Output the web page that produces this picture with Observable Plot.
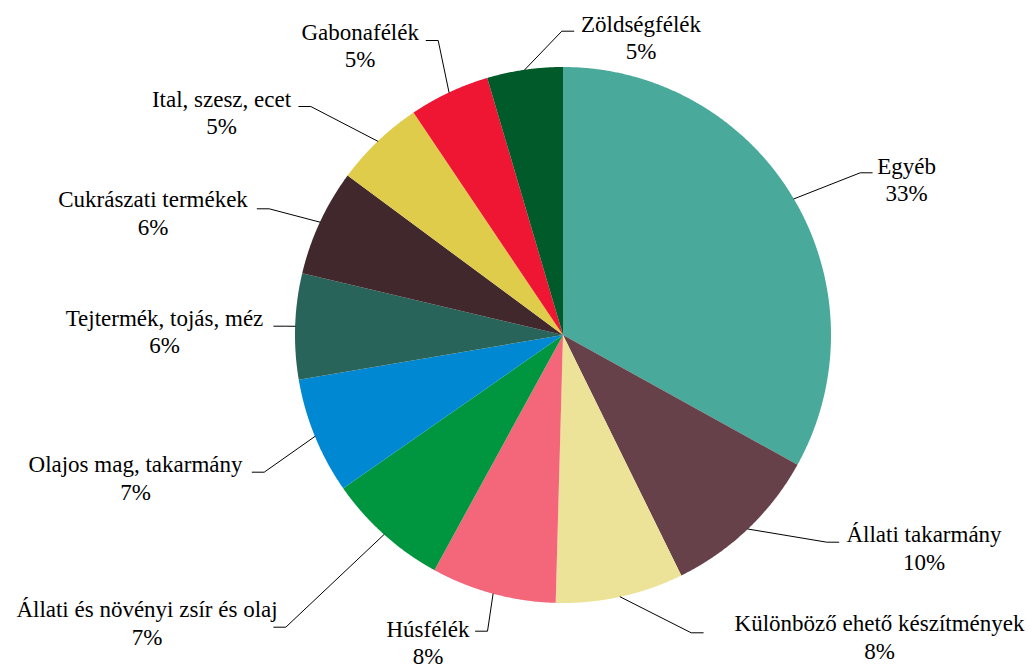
<!DOCTYPE html>
<html><head><meta charset="utf-8">
<script src="https://cdn.jsdelivr.net/npm/d3@7"></script>
<script src="https://cdn.jsdelivr.net/npm/@observablehq/plot@0.6"></script>
<style>html,body{margin:0;padding:0;background:#fff}
svg text{font-family:"Liberation Serif","Times New Roman","DejaVu Serif",serif !important;}</style>
</head><body><div id="chart"></div>
<script>
// ---- data (clockwise from 12 o'clock) ----
const categories = ["Egyéb", "Állati takarmány", "Különböző ehető készítmények", "Húsfélék",
  "Állati és növényi zsír és olaj", "Olajos mag, takarmány", "Tejtermék, tojás, méz",
  "Cukrászati termékek", "Ital, szesz, ecet", "Gabonafélék", "Zöldségfélék"];
const shares = [33.04, 9.68, 7.71, 7.53, 7.34, 7.03, 6.36, 6.44, 5.44, 4.86, 4.56];
const colors = ["#49A99A", "#66414A", "#ECE399", "#F4667A", "#00963F", "#0089D2",
  "#29645A", "#40282C", "#DFCC4A", "#EE1632", "#005A2A"];

// ---- layout ----
const W = 1033, H = 666, CX = 562.5, CY = 334.5, R = 268;
// per label: [leader end x, leader y, text centre x, first baseline y]
const labelLayout = [
  [871.7, 172.3, 906, 173.3],
  [838.3, 541.7, 923.5, 541.7],
  [702.7, 632.3, 879, 630.7],
  [475, 630.7, 427.5, 636],
  [273.3, 626.7, 146.5, 616.7],
  [251.7, 471.7, 135, 471.7],
  [273.3, 325.7, 164, 325],
  [256.7, 208.3, 152.5, 206.7],
  [298.3, 106, 221, 106],
  [425.7, 40, 359.7, 39.3],
  [573.3, 30.7, 640.5, 31]
];
const FONT = "'Liberation Serif', 'Times New Roman', 'DejaVu Serif', serif";

const total = d3.sum(shares);
const pt = (deg, r) => ({x: CX + r * Math.sin(deg * Math.PI / 180), y: CY - r * Math.cos(deg * Math.PI / 180)});

let cum = 0;
const slicePts = [], leaderPts = [], labels = [];
categories.forEach((name, i) => {
  const a0 = cum / total * 360;
  cum += shares[i];
  const a1 = cum / total * 360;
  slicePts.push({name, x: CX, y: CY});
  const n = Math.max(2, Math.ceil((a1 - a0) / 0.25));
  for (let k = 0; k <= n; k++) {
    const p = pt(a0 + (a1 - a0) * k / n, R);
    slicePts.push({name, ...p});
  }
  const [ex, ly, tx, ty] = labelLayout[i];
  const side = tx > ex ? 1 : -1;
  const s = pt((a0 + a1) / 2, R);
  leaderPts.push({name, x: s.x, y: s.y});
  leaderPts.push({name, x: ex - side * 12, y: ly});
  leaderPts.push({name, x: ex, y: ly});
  labels.push({name, pct: Math.round(shares[i] / total * 100) + "%", tx, ty});
});

const chart = Plot.plot({
  width: W, height: H,
  marginTop: 0, marginRight: 0, marginBottom: 0, marginLeft: 0,
  x: {domain: [0, W], range: [0, W], axis: null},
  y: {domain: [0, H], range: [0, H], axis: null},
  color: {domain: categories, range: colors},
  style: {background: "white", fontFamily: FONT},
  marks: [
    Plot.line(slicePts, {x: "x", y: "y", z: "name", fill: "name", stroke: "none", curve: "linear"}),
    Plot.line(leaderPts, {x: "x", y: "y", z: "name", stroke: "black", strokeWidth: 1, curve: "linear"}),
    Plot.text(labels, {x: "tx", y: "ty", text: "name", lineAnchor: "bottom", fontFamily: FONT, fontSize: 23, fill: "black"}),
    Plot.text(labels, {x: "tx", y: "ty", dy: 27.5, text: "pct", lineAnchor: "bottom", fontFamily: FONT, fontSize: 23, fill: "black"})
  ]
});
document.getElementById("chart").appendChild(chart);
</script>
</body></html>
